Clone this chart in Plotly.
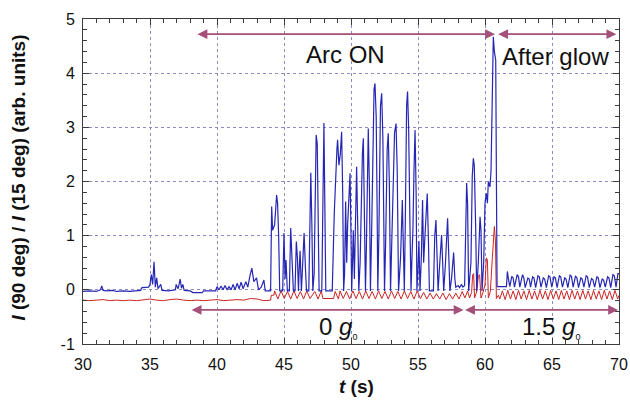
import plotly.graph_objects as go

# Time axis and tick labels
x_ticks = [30, 35, 40, 45, 50, 55, 60, 65, 70]
y_ticks = [-1, 0, 1, 2, 3, 4, 5]
y_ticktext = ["-1", "0", "1", "2", "3", "4", "5"]

# I(90 deg)/I(15 deg) signal (blue): (t [s], ratio)
blue_pre = [
    (30.0, -0.03), (30.5, -0.02), (31.0, -0.03), (31.3, 0.0), (31.4, 0.07), (31.5, -0.01),
    (31.8, -0.02), (32.2, -0.01), (32.5, -0.03), (33.0, -0.02), (33.5, -0.03), (34.0, -0.02),
    (34.3, -0.01), (34.4, 0.04), (34.9, 0.05), (35.0, 0.1), (35.1, 0.28), (35.2, 0.1),
    (35.3, 0.52), (35.4, 0.05), (35.5, 0.22), (35.6, 0.02), (35.8, 0.1), (35.9, -0.01),
    (36.4, -0.02), (36.9, 0.0), (36.95, 0.1), (37.1, 0.02), (37.25, 0.2), (37.35, 0.03),
    (37.45, 0.1), (37.55, -0.01), (38.0, -0.02), (38.2, -0.05), (38.9, -0.05), (39.0, -0.02),
    (39.9, -0.02), (40.0, 0.06), (40.15, 0.0), (40.3, 0.07), (40.45, 0.0), (40.6, 0.08),
    (40.75, 0.0), (40.9, 0.06), (41.05, 0.0), (41.2, 0.1), (41.35, 0.0), (41.5, 0.12),
    (41.65, 0.02), (41.8, 0.14), (41.95, 0.02), (42.15, 0.15), (42.3, 0.05), (42.45, 0.25),
    (42.6, 0.4), (42.75, 0.15), (42.95, 0.22), (43.1, 0.0), (43.3, 0.05), (43.5, 0.18),
    (43.6, -0.02), (44.0, -0.02),
]
blue_arc = [
    (44.02, 0.8), (44.08, 1.54), (44.15, 1.1), (44.3, 1.2), (44.45, 1.75), (44.52, 1.6),
    (44.6, 1.0), (44.68, -0.02), (44.9, -0.02), (45.0, 1.05), (45.08, 0.2), (45.15, 0.55),
    (45.25, -0.02), (45.4, -0.02), (45.5, 1.14), (45.6, 0.4), (45.7, -0.02), (45.82, -0.02),
    (45.92, 0.89), (46.0, 0.6), (46.08, -0.02), (46.12, 0.3), (46.2, 0.72), (46.3, -0.02),
    (46.4, 0.5), (46.5, 1.05), (46.6, 0.4), (46.68, -0.02), (46.85, -0.02), (46.95, 1.5),
    (47.0, 2.16), (47.08, 1.2), (47.15, -0.02), (47.25, 0.3), (47.35, 2.8), (47.4, 2.86),
    (47.48, 2.7), (47.55, 1.3), (47.62, -0.02), (47.82, -0.02), (47.9, 1.8), (47.98, 3.08),
    (48.05, 1.5), (48.12, -0.02), (48.6, -0.02), (48.75, 1.4), (48.95, 2.6), (49.0, 2.77),
    (49.1, 2.3), (49.2, 2.5), (49.3, 2.92), (49.38, 1.8), (49.45, -0.02), (49.52, 0.3),
    (49.6, 1.63), (49.68, 0.5), (49.75, 1.2), (49.85, 1.9), (49.93, 2.15), (50.0, 1.0),
    (50.05, -0.02), (50.1, 0.4), (50.17, 1.1), (50.25, 0.2), (50.33, 1.6), (50.42, 2.27),
    (50.5, 1.2), (50.58, -0.02), (50.68, 0.5), (50.75, 1.5), (50.85, 2.5), (50.92, 2.8),
    (51.0, 1.5), (51.08, -0.02), (51.15, 0.8), (51.22, 2.6), (51.29, 2.98), (51.38, 1.8),
    (51.45, -0.02), (51.55, 1.2), (51.72, 3.7), (51.79, 3.81), (51.88, 3.2), (51.95, 1.5),
    (52.0, -0.02), (52.08, 1.0), (52.2, 3.4), (52.29, 3.63), (52.38, 2.8), (52.45, 1.2),
    (52.5, -0.02), (52.58, 0.8), (52.7, 2.6), (52.78, 2.89), (52.86, 2.0), (52.95, -0.02),
    (53.05, 0.9), (53.25, 2.9), (53.36, 3.07), (53.45, 2.2), (53.55, -0.02), (53.7, 0.6),
    (53.83, 1.66), (53.9, 0.8), (53.98, -0.02), (54.05, 1.2), (54.15, 3.4), (54.22, 3.66),
    (54.3, 3.0), (54.4, 1.2), (54.48, -0.02), (54.55, 0.6), (54.62, 1.1), (54.7, 2.2),
    (54.78, 2.95), (54.86, 1.8), (54.92, -0.02), (55.0, 0.4), (55.07, 0.9), (55.15, -0.02),
    (55.25, 0.6), (55.34, 1.66), (55.42, 0.5), (55.5, 0.9), (55.62, 1.6), (55.69, 1.78),
    (55.78, 0.9), (55.85, -0.02), (56.15, -0.02), (56.25, 1.0), (56.34, 1.29), (56.42, 0.6),
    (56.5, -0.02), (56.6, 0.4), (56.7, 0.9), (56.76, 1.01), (56.84, 0.5), (56.92, -0.02),
    (57.05, 0.5), (57.15, 1.2), (57.21, 1.32), (57.3, 0.6), (57.38, -0.02), (57.5, 0.2),
    (57.6, 0.65), (57.66, 0.69), (57.75, 0.2), (57.82, 0.05), (58.0, 0.08), (58.1, 0.04),
    (58.25, 0.1), (58.35, 0.05), (58.48, 0.08), (58.55, 1.0), (58.63, 1.97), (58.7, 1.6),
    (58.78, -0.02), (58.95, 0.5), (59.05, 2.1), (59.13, 2.43), (59.2, 2.3), (59.3, 1.2),
    (59.38, -0.02), (59.5, 0.5), (59.58, 1.3), (59.63, 1.35), (59.7, 1.1), (59.78, -0.02),
    (59.9, 0.5), (60.0, 1.6), (60.1, 1.78), (60.18, 1.6), (60.25, 2.0), (60.37, 1.9),
    (60.45, 2.2), (60.55, 4.0), (60.62, 4.67), (60.7, 4.4), (60.8, 4.24), (60.85, 2.1),
    (60.9, 0.06), (61.6, 0.06),
]
blue_glow = [
    (61.67, 0.34), (61.75, 0.2), (61.85, 0.06), (62.0, 0.25), (62.1, 0.22), (62.2, 0.05),
    (62.4, 0.28), (62.5, 0.24), (62.6, 0.05), (62.8, 0.28), (62.9, 0.22), (63.0, 0.04),
    (63.2, 0.22), (63.3, 0.2), (63.4, 0.05), (63.55, 0.24), (63.65, 0.22), (63.78, 0.04),
    (63.95, 0.26), (64.05, 0.24), (64.18, 0.05), (64.35, 0.22), (64.45, 0.2), (64.58, 0.04),
    (64.75, 0.26), (64.85, 0.24), (64.98, 0.05), (65.15, 0.24), (65.25, 0.22), (65.38, 0.04),
    (65.55, 0.26), (65.65, 0.24), (65.78, 0.05), (65.95, 0.22), (66.05, 0.2), (66.18, 0.04),
    (66.35, 0.27), (66.45, 0.25), (66.58, 0.05), (66.75, 0.25), (66.85, 0.23), (66.98, 0.04),
    (67.15, 0.22), (67.25, 0.2), (67.38, 0.05), (67.55, 0.26), (67.65, 0.24), (67.78, 0.04),
    (67.95, 0.21), (68.05, 0.19), (68.18, 0.05), (68.35, 0.24), (68.45, 0.22), (68.58, 0.04),
    (68.75, 0.2), (68.85, 0.18), (68.98, 0.05), (69.15, 0.24), (69.25, 0.22), (69.38, 0.04),
    (69.55, 0.28), (69.65, 0.26), (69.78, 0.05), (69.92, 0.3), (70.0, 0.3),
]

# Reference signal (red): (t [s], ratio)
red_pre = [
    (30.0, -0.19), (30.5, -0.2), (31.0, -0.19), (31.5, -0.18), (32.0, -0.2), (32.5, -0.19),
    (33.0, -0.2), (33.5, -0.19), (34.0, -0.2), (34.5, -0.19), (35.0, -0.17), (35.5, -0.19),
    (36.0, -0.2), (36.5, -0.18), (37.0, -0.17), (37.5, -0.19), (38.0, -0.2), (38.5, -0.19),
    (39.0, -0.2), (39.5, -0.19), (40.0, -0.18), (40.5, -0.2), (41.0, -0.19), (41.5, -0.18),
    (42.0, -0.19), (42.5, -0.16), (43.0, -0.17), (43.5, -0.2), (44.0, -0.19),
]
red_arc = [
    (44.05, -0.1), (44.25, -0.1), (44.3, -0.02), (44.54, -0.17), (44.78, -0.02), (45.02, -0.16),
    (45.26, -0.03), (45.5, -0.17), (45.74, -0.02), (45.98, -0.16), (46.22, -0.03), (46.46, -0.17),
    (46.7, -0.02), (46.94, -0.16), (47.3, -0.03), (47.54, -0.17), (47.78, -0.02), (47.9, -0.16),
    (48.7, -0.16), (48.82, -0.03), (49.06, -0.17), (49.18, -0.02), (49.42, -0.16), (49.66, -0.03),
    (49.9, -0.17), (50.14, -0.02), (50.38, -0.16), (50.62, -0.03), (50.86, -0.17), (51.1, -0.02),
    (51.34, -0.16), (51.58, -0.03), (51.82, -0.17), (52.06, -0.02), (52.3, -0.16), (52.54, -0.03),
    (52.78, -0.17), (53.02, -0.02), (53.26, -0.16), (53.5, -0.03), (53.74, -0.17), (53.98, -0.02),
    (54.22, -0.16), (54.46, -0.03), (54.7, -0.17), (54.94, -0.02), (55.18, -0.16), (55.42, -0.05),
    (55.66, -0.17), (55.9, -0.06), (56.14, -0.17), (56.38, -0.07), (56.62, -0.17), (56.86, -0.06),
    (57.1, -0.18), (57.34, -0.07), (57.58, -0.17), (57.82, -0.06), (58.06, -0.17), (58.3, -0.03),
    (58.5, -0.15), (58.7, -0.02), (58.85, -0.15), (59.0, -0.05), (59.08, 0.28), (59.15, 0.3),
    (59.22, -0.15), (59.4, -0.02), (59.5, 0.25), (59.6, 0.28), (59.7, -0.15), (59.85, -0.05),
    (60.0, 0.1), (60.1, 0.59), (60.18, 0.55), (60.25, -0.15), (60.4, -0.03), (60.55, 0.6),
    (60.7, 1.17), (60.78, 0.9), (60.85, -0.16), (61.0, -0.1), (61.1, -0.17),
]
red_glow = [
    (61.3, -0.02), (61.5, -0.18), (61.7, -0.01), (61.9, -0.17), (62.1, -0.02), (62.3, -0.18),
    (62.5, -0.01), (62.7, -0.17), (62.9, -0.02), (63.1, -0.18), (63.3, -0.01), (63.5, -0.17),
    (63.7, -0.02), (63.9, -0.18), (64.1, -0.01), (64.3, -0.17), (64.5, -0.02), (64.7, -0.18),
    (64.9, -0.01), (65.1, -0.17), (65.3, -0.02), (65.5, -0.18), (65.7, -0.01), (65.9, -0.17),
    (66.1, -0.02), (66.3, -0.18), (66.5, -0.01), (66.7, -0.17), (66.9, -0.02), (67.1, -0.18),
    (67.3, -0.01), (67.5, -0.17), (67.7, -0.02), (67.9, -0.18), (68.1, -0.01), (68.3, -0.17),
    (68.5, -0.02), (68.7, -0.18), (68.9, -0.01), (69.1, -0.17), (69.3, -0.02), (69.5, -0.18),
    (69.7, -0.01), (69.9, -0.17), (70.0, -0.1),
]

# Phase spans: (t_start, t_end, y)
top_spans = [(38.43, 60.75, 4.72), (60.87, 69.8, 4.72)]
bottom_spans = [(37.99, 58.4, -0.37), (58.4, 69.93, -0.37)]

FONT = "Liberation Sans, Arial, Helvetica, sans-serif"
BLUE = "#2626b4"
RED = "#cc2424"
MAUVE = "#a4507a"
GRID = "#8c8cc8"
FRAME = "#3c3c3c"

blue = blue_pre + blue_arc + blue_glow
red = red_pre + red_arc + red_glow

fig = go.Figure()
fig.add_trace(go.Scatter(x=[p[0] for p in red], y=[p[1] for p in red], mode="lines",
                         line=dict(color=RED, width=1), hoverinfo="skip"))
fig.add_trace(go.Scatter(x=[p[0] for p in blue], y=[p[1] for p in blue], mode="lines",
                         line=dict(color=BLUE, width=1.2), hoverinfo="skip"))

axis_common = dict(
    showline=True, linecolor=FRAME, linewidth=1, mirror="ticks",
    ticks="inside", ticklen=6, tickcolor=FRAME, tickwidth=1,
    showgrid=True, gridcolor=GRID, griddash="dot", gridwidth=1,
    zeroline=False, automargin=False,
    tickfont=dict(family=FONT, size=16, color="#111"),
)
fig.update_xaxes(range=[30, 70], tickvals=x_ticks, ticklabelstandoff=6,
                 minor=dict(dtick=1, ticks="inside", ticklen=4, tickcolor=FRAME, showgrid=False),
                 **axis_common)
fig.update_yaxes(range=[-1, 5], tickvals=y_ticks, ticktext=y_ticktext, ticklabelstandoff=4,
                 minor=dict(dtick=0.2, ticks="inside", ticklen=4, tickcolor=FRAME, showgrid=False),
                 **axis_common)

annotations = []
for t0, t1, yv in top_spans + bottom_spans:
    annotations.append(dict(
        x=t1, y=yv, ax=t0, ay=yv, xref="x", yref="y", axref="x", ayref="y",
        text="", showarrow=True, arrowside="end+start", arrowhead=2, startarrowhead=2,
        arrowsize=1.1, startarrowsize=1.1, arrowwidth=1.8, arrowcolor=MAUVE,
        standoff=0, startstandoff=0,
    ))

label_font = dict(family=FONT, size=24, color="#111")
sub0 = "<sub><span style='font-size:9px'>0</span></sub>"
centered = dict(xref="paper", yref="paper", showarrow=False, xanchor="center", yanchor="middle")
annotations += [
    dict(x=0.489, y=0.89, text="Arc ON", font=label_font, **centered),
    dict(x=0.881, y=0.884, text="After glow", font=label_font, **centered),
    dict(x=0.476, y=0.052, text="0 <i>g</i>" + sub0, font=label_font, **centered),
    dict(x=0.873, y=0.052, text="1.5 <i>g</i>" + sub0, font=label_font, **centered),
    dict(x=0.511, y=-0.13, text="<b><i>t</i> (s)</b>",
         font=dict(family=FONT, size=19, color="#111"), **centered),
    dict(x=-0.12, y=0.511, textangle=-90,
         text="<b><i>I</i> (90 deg) / <i>I</i> (15 deg) (arb. units)</b>",
         font=dict(family=FONT, size=19, color="#111"), **centered),
]

fig.update_layout(
    width=630, height=400,
    margin=dict(l=83, r=11, t=19, b=56),
    paper_bgcolor="white", plot_bgcolor="white",
    showlegend=False,
    annotations=annotations,
)

fig.write_html("out.html")
